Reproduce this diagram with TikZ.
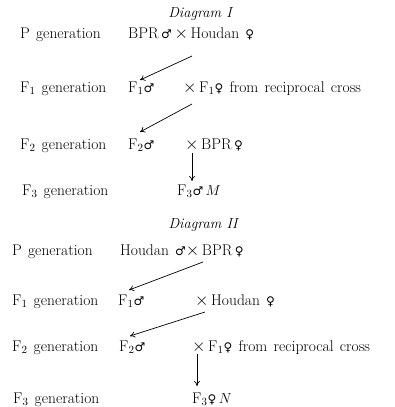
\documentclass[tikz,border=0pt]{standalone}
\usepackage{fontspec}
\newfontfamily\symf{DejaVu Sans}
\usetikzlibrary{arrows.meta}
\newcommand{\male}{{\symf\fontsize{12}{12}\selectfont ♂}}
\newcommand{\female}{{\symf\fontsize{12}{12}\selectfont ♀}}
\newcommand{\crs}{{\fontsize{17}{17}\selectfont$\times$}}
\newcommand{\wsp}{\spaceskip=0.4em plus 0.1em\relax}
\begin{document}
\begin{tikzpicture}[x=1pt,y=-1pt,
  txt/.style={anchor=base west,inner sep=0pt,font=\fontsize{15.5}{17}\selectfont\wsp},
  ttl/.style={anchor=base,inner sep=0pt,font=\fontsize{14.5}{16}\selectfont\itshape},
  arr/.style={-{To[length=5pt,width=6pt]},line width=0.7pt}]
\useasboundingbox (0,0) rectangle (394,407);
% Diagram I
\node[ttl] (t1) at (200,17) {Diagram I};
\node[txt] (p1) at (20,38) {P generation};
\node[txt] (p1x) at (128,38) {BPR\,\male\,\crs\,Houdan \female};
\node[txt] (g11) at (20,92) {F$_1$ generation};
\node[txt] (m11) at (128,92) {F$_1$\male};
\node[txt] (c11) at (183,92) {\crs\,F$_1$\female\ from reciprocal cross};
\node[txt] (g12) at (20,149) {F$_2$ generation};
\node[txt] (m12) at (128,149) {F$_2$\male};
\node[txt] (c12) at (185,149) {\crs\,BPR\,\female};
\node[txt] (g13) at (22,195) {F$_3$ generation};
\node[txt] (m13) at (177,195) {F$_3$\male$\,M$};
\coordinate (a1s) at (192,56);
\coordinate (a1e) at (140,80);
\draw[arr] (a1s) -- (a1e);
\coordinate (a2s) at (192,104);
\coordinate (a2e) at (140,132);
\draw[arr] (a2s) -- (a2e);
\coordinate (a3s) at (192,153);
\coordinate (a3e) at (192,181);
\draw[arr] (a3s) -- (a3e);
% Diagram II
\node[ttl] (t2) at (203,228) {Diagram II};
\node[txt] (p2) at (12,255) {P generation};
\node[txt] (p2x) at (120,255) {Houdan \male\crs\,BPR\,\female};
\node[txt] (g21) at (12,305) {F$_1$ generation};
\node[txt] (m21) at (118,305) {F$_1$\male};
\node[txt] (c21) at (195,305) {\crs\,Houdan \female};
\node[txt] (g22) at (12,351) {F$_2$ generation};
\node[txt] (m22) at (119,351) {F$_2$\male};
\node[txt] (c22) at (192,351) {\crs\,F$_1$\female\ from reciprocal cross};
\node[txt] (g23) at (13,403) {F$_3$ generation};
\node[txt] (m23) at (192,403) {F$_3$\female\,$N$};
\coordinate (b1s) at (203,262);
\coordinate (b1e) at (129,290);
\draw[arr] (b1s) -- (b1e);
\coordinate (b2s) at (205,312);
\coordinate (b2e) at (130,336);
\draw[arr] (b2s) -- (b2e);
\coordinate (b3s) at (197,354);
\coordinate (b3e) at (197,386);
\draw[arr] (b3s) -- (b3e);
\end{tikzpicture}
\end{document}
